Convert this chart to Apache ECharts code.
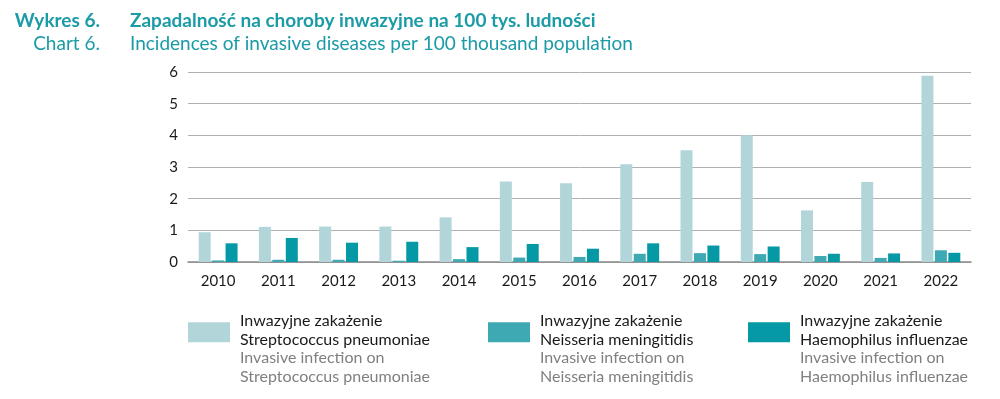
<!DOCTYPE html>
<html>
<head>
<meta charset="utf-8">
<script src="https://cdn.jsdelivr.net/npm/echarts@6/dist/echarts.min.js"></script>
<style>
  html, body { margin: 0; padding: 0; background: #fff; }
  #chart { width: 1000px; height: 399px; }
</style>
</head>
<body>
<div id="chart"></div>
<script>
// lata
const years = ['2010', '2011', '2012', '2013', '2014', '2015', '2016', '2017', '2018', '2019', '2020', '2021', '2022']

// zapadalność na 100 tys.
const strepValues = [0.94, 1.11, 1.12, 1.12, 1.41, 2.54, 2.49, 3.09, 3.53, 4.00, 1.63, 2.53, 5.88]
const neissValues = [0.05, 0.07, 0.07, 0.04, 0.09, 0.14, 0.16, 0.26, 0.28, 0.25, 0.19, 0.13, 0.37]
const haemoValues = [0.59, 0.76, 0.61, 0.64, 0.47, 0.57, 0.42, 0.59, 0.52, 0.49, 0.26, 0.27, 0.29]

const yTicks = [0, 1, 2, 3, 4, 5, 6]

const seriesNames = ['Streptococcus pneumoniae', 'Neisseria meningitidis', 'Haemophilus influenzae']
const colors = ['#b2d5da', '#3fa9b3', '#0599a5']

const teal = '#1a9ba6'
const font = 'Lato'

const myChart = echarts.init(document.getElementById('chart'))

const legendTextStyle = {
  fontFamily: font,
  fontSize: 16,
  padding: [33, 0, 0, 5],
  rich: {
    pl: { fontFamily: font, fontSize: 16, color: '#1a1a1a', lineHeight: 18.5 },
    en: { fontFamily: font, fontSize: 16, color: '#808080', lineHeight: 18.5 }
  }
}

const legendLefts = [188, 488, 748]

const option = {
  animation: false,
  textStyle: { fontFamily: font },
  graphic: [
    { type: 'text', right: 900, top: 11, style: { text: 'Wykres 6.', font: 'bold 19px Lato', fill: teal } },
    { type: 'text', left: 130, top: 11, style: { text: 'Zapadalność na choroby inwazyjne na 100 tys. ludności', font: 'bold 19px Lato', fill: teal } },
    { type: 'text', right: 900, top: 34, style: { text: 'Chart 6.', font: '19px Lato', fill: teal } },
    { type: 'text', left: 130, top: 34, style: { text: 'Incidences of invasive diseases per 100 thousand population', font: '19px Lato', fill: teal } }
  ],
  legend: seriesNames.map((name, i) => ({
    data: [name],
    left: legendLefts[i],
    top: 313,
    padding: 0,
    itemWidth: 42,
    itemHeight: 20,
    itemGap: 0,
    icon: 'rect',
    selectedMode: false,
    textStyle: legendTextStyle,
    formatter: (n) => '{pl|Inwazyjne zakażenie}\n{pl|' + n + '}\n{en|Invasive infection on}\n{en|' + n + '}'
  })),
  grid: {
    left: 188,
    right: 29,
    top: 72,
    height: 190
  },
  xAxis: {
    type: 'category',
    data: years,
    axisTick: { show: false },
    axisLine: { lineStyle: { color: '#8a8a8a', width: 1.5 } },
    axisLabel: { color: '#1a1a1a', fontSize: 15, margin: 12, fontFamily: font }
  },
  yAxis: {
    type: 'value',
    min: yTicks[0],
    max: yTicks[yTicks.length - 1],
    interval: 1,
    axisLabel: { color: '#1a1a1a', fontSize: 15, margin: 10, fontFamily: font },
    splitLine: { lineStyle: { color: '#b0b0b0', width: 1 } }
  },
  series: [strepValues, neissValues, haemoValues].map((vals, i) => ({
    name: seriesNames[i],
    type: 'bar',
    data: vals,
    barWidth: 12,
    barGap: '12%',
    itemStyle: { color: colors[i] }
  }))
}

myChart.setOption(option)
</script>
</body>
</html>
